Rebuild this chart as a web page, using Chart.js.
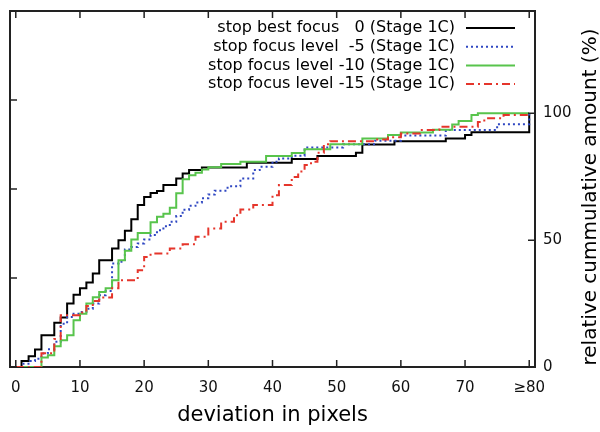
<!DOCTYPE html>
<html>
<head>
<meta charset="utf-8">
<script src="https://cdn.jsdelivr.net/npm/chart.js@4/dist/chart.umd.min.js"></script>
<style>
  html, body { margin: 0; padding: 0; background: #fff; }
  #wrap { width: 600px; height: 432px; }
</style>
</head>
<body>
<div id="wrap"><canvas id="chart" width="600" height="432"></canvas></div>
<script>
// ---- data (step points: value holds from x onward) ----
const bestFocusX = [0, 0.9, 2, 3, 4, 6, 7, 8, 9, 10, 11, 12, 13, 15, 16, 17, 18, 19, 20, 21, 22, 23, 25, 26, 27, 29, 36, 43, 47, 53, 54, 59, 67, 70, 71, 80];
const bestFocusY = [0, 2.4, 4.2, 6.9, 12.5, 17.4, 19.5, 25, 28.5, 31, 33.3, 36.8, 42.1, 46.7, 50, 53.7, 58.2, 63.8, 67, 68.6, 69.4, 71.7, 74.3, 76.3, 77.6, 78.6, 80.5, 82, 83.2, 84.4, 87.7, 89, 90.1, 91.4, 92.5, 100];

const level5X = [0, 1.2, 2.2, 3, 4, 5, 6, 7, 8, 9, 10, 11, 12, 13, 14, 15, 16, 17, 18, 19, 20, 21, 22, 23, 24, 25, 26, 27, 28, 29, 30, 31, 33, 35, 37, 38, 40, 41, 43, 45, 51, 56, 60, 67, 75, 80];
const level5Y = [0, 1.3, 2.4, 3.3, 5.3, 7, 10, 17, 19.7, 21, 21.7, 23, 25, 28.3, 30, 40.8, 41.5, 46.3, 47.3, 48.7, 50.2, 52, 53.9, 55.5, 57.2, 59.5, 62, 63.5, 64.8, 66.5, 68, 69.5, 71.2, 74.3, 77.6, 78.9, 80.9, 82.2, 83.3, 86.5, 87.8, 89.2, 91.2, 93.4, 95.7, 100];

const level10X = [0, 4, 5, 6, 7, 8, 9, 10, 11, 12, 13, 14, 15, 16, 17, 18, 19, 21, 22, 23, 24, 25, 26, 27, 28, 29, 30, 32, 35, 39, 43, 45, 49, 54, 58, 60, 65, 68, 69, 71, 72, 80];
const level10Y = [0, 3.7, 4.6, 8.2, 10.5, 12.5, 18.4, 21, 25, 27.5, 29.6, 31, 34.2, 42.1, 45.8, 50.2, 52.8, 57, 59.2, 60.4, 62.8, 68.5, 74, 75.6, 76.6, 77.8, 78.7, 80, 80.9, 83.2, 84.3, 85.8, 87.8, 90.1, 91.4, 92.4, 93.5, 95.6, 96.9, 99.3, 100, 100];

const level15X = [0, 4, 6, 7, 10, 11, 12, 13, 15, 16, 19, 20, 21, 24, 26, 28, 30, 32, 34, 35, 37, 40, 41, 43, 44, 45, 46, 47, 48, 49, 56, 58, 60, 63, 66, 72, 73, 76, 80];
const level15Y = [0, 5.4, 11, 20.4, 21.5, 24, 26, 27.4, 31, 34.2, 38.1, 43.4, 44.7, 46.7, 48.4, 51.3, 54.6, 57.2, 59.8, 62.1, 63.8, 67.7, 71.7, 74.9, 77, 79.6, 80.9, 84.4, 87.8, 89, 89.7, 90.5, 92, 93.4, 94.7, 96.6, 98, 99.3, 100];

const seriesLabels = [
  'stop best focus   0 (Stage 1C)',
  'stop focus level  -5 (Stage 1C)',
  'stop focus level -10 (Stage 1C)',
  'stop focus level -15 (Stage 1C)',
];

const xTickValues = [0, 10, 20, 30, 40, 50, 60, 70, 80];
const xTickLabels = ['0', '10', '20', '30', '40', '50', '60', '70', '≥80'];
const yTickValues = [0, 50, 100];
const leftTickValues = [0, 1, 2, 3, 4];   // unlabelled left axis

const FONT = '"DejaVu Sans", sans-serif';
const FRAME = '#222';

const toPoints = (xs, ys) => xs.map((x, i) => ({ x, y: ys[i] }));

// later series sit on top, like the original plot
function stepSet(label, xs, ys, color, dash, order) {
  return {
    label,
    data: toPoints(xs, ys),
    borderColor: color,
    borderWidth: 2,
    borderDash: dash,
    stepped: true,
    pointRadius: 0,
    fill: false,
    order,
    xAxisID: 'x',
    yAxisID: 'y',
  };
}

// inward tick marks on all four sides (gnuplot style)
const innerTicks = {
  id: 'innerTicks',
  afterDatasetsDraw(chart) {
    const { ctx, chartArea: a, scales } = chart;
    const len = 7;
    ctx.save();
    ctx.strokeStyle = FRAME;
    ctx.lineWidth = 1.5;
    ctx.beginPath();
    xTickValues.forEach(v => {
      const px = scales.x.getPixelForValue(v);
      ctx.moveTo(px, a.bottom); ctx.lineTo(px, a.bottom - len);
      ctx.moveTo(px, a.top); ctx.lineTo(px, a.top + len);
    });
    yTickValues.forEach(v => {
      const py = scales.y.getPixelForValue(v);
      ctx.moveTo(a.right, py); ctx.lineTo(a.right - len, py);
    });
    leftTickValues.forEach(v => {
      const py = scales.yLeft.getPixelForValue(v);
      ctx.moveTo(a.left, py); ctx.lineTo(a.left + len, py);
    });
    ctx.stroke();
    ctx.restore();
  }
};

// key in the top right corner: right-aligned text, line sample to the right
const keyBox = {
  id: 'keyBox',
  afterDatasetsDraw(chart) {
    const { ctx } = chart;
    ctx.save();
    ctx.font = '16px ' + FONT;
    ctx.textAlign = 'right';
    ctx.textBaseline = 'middle';
    chart.data.datasets.forEach((ds, i) => {
      const y = 28 + i * 18.7;
      ctx.fillStyle = '#000';
      ctx.fillText(ds.label, 455, y);
      ctx.strokeStyle = ds.borderColor;
      ctx.lineWidth = ds.borderWidth;
      ctx.setLineDash(ds.borderDash || []);
      ctx.beginPath();
      ctx.moveTo(466, y); ctx.lineTo(515, y);
      ctx.stroke();
    });
    ctx.restore();
  }
};

// axis titles
const axisTitles = {
  id: 'axisTitles',
  afterDraw(chart) {
    const { ctx, chartArea: a } = chart;
    ctx.save();
    ctx.fillStyle = '#000';
    ctx.textAlign = 'center';
    ctx.textBaseline = 'middle';
    ctx.font = '21px ' + FONT;
    ctx.fillText('deviation in pixels', (a.left + a.right) / 2, 416);
    ctx.font = '20px ' + FONT;
    ctx.translate(591, 197);
    ctx.rotate(-Math.PI / 2);
    ctx.fillText('relative cummulative amount (%)', 0, 0);
    ctx.restore();
  }
};

const setTicks = (values) => (scale) => { scale.ticks = values.map(v => ({ value: v })); };
const noPad = (s) => { s.paddingTop = 0; s.paddingBottom = 0; s.paddingLeft = 0; s.paddingRight = 0; };
const hidden = { display: false, drawTicks: false };
const frame = { display: true, color: FRAME, width: 2 };

new Chart(document.getElementById('chart'), {
  type: 'line',
  data: {
    datasets: [
      stepSet(seriesLabels[0], bestFocusX, bestFocusY, '#000000', [], 4),
      stepSet(seriesLabels[1], level5X, level5Y, '#2f47c2', [2, 3], 3),
      stepSet(seriesLabels[2], level10X, level10Y, '#58c44c', [], 2),
      stepSet(seriesLabels[3], level15X, level15Y, '#e5352b', [8, 4, 2, 4], 1),
    ],
  },
  options: {
    responsive: false,
    devicePixelRatio: 1,
    animation: false,
    layout: { padding: 0 },
    plugins: { legend: { display: false }, tooltip: { enabled: false } },
    scales: {
      x: {
        type: 'linear', position: 'bottom', min: -0.9, max: 80.9,
        afterBuildTicks: setTicks(xTickValues),
        afterFit: (s) => { s.height = 65; noPad(s); },
        grid: hidden, border: frame,
        ticks: {
          padding: 12, color: '#111', font: { family: FONT, size: 15 },
          maxRotation: 0, autoSkip: false,
          callback: (v, i) => xTickLabels[i],
        },
      },
      xTop: {
        type: 'linear', position: 'top', min: -0.9, max: 80.9,
        afterFit: (s) => { s.height = 11; noPad(s); },
        grid: hidden, border: frame, ticks: { display: false },
      },
      y: {
        type: 'linear', position: 'right', min: 0, max: 140.3,
        afterBuildTicks: setTicks(yTickValues),
        afterFit: (s) => { s.width = 65; noPad(s); },
        grid: hidden, border: frame,
        ticks: { padding: 8, color: '#111', font: { family: FONT, size: 15 } },
      },
      yLeft: {
        type: 'linear', position: 'left', min: 0, max: 4,
        afterFit: (s) => { s.width = 10; noPad(s); },
        grid: hidden, border: frame, ticks: { display: false },
      },
    },
  },
  plugins: [innerTicks, keyBox, axisTitles],
});
</script>
</body>
</html>
